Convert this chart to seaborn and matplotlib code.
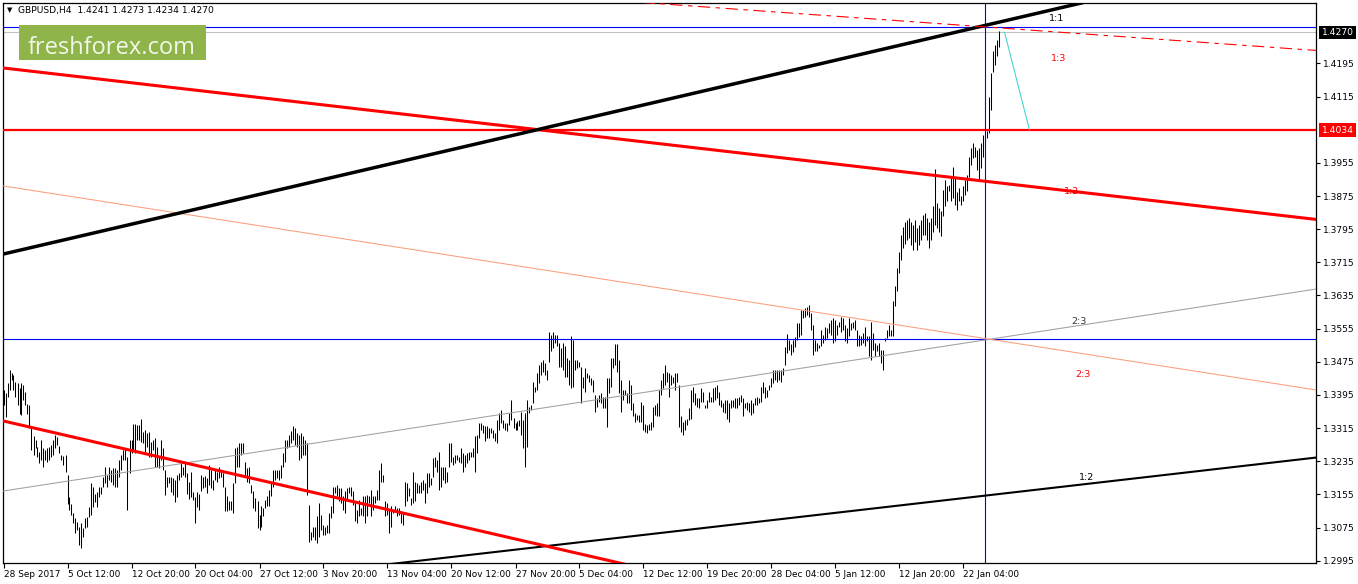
import numpy as np
import matplotlib
matplotlib.use("Agg")
import matplotlib.pyplot as plt
import matplotlib.transforms as mtransforms
from matplotlib.patches import Rectangle
import seaborn as sns

# GBPUSD H4 bars, oldest first (high / low)
bar_high = [
    1.3407, 1.3399, 1.3423, 1.3455, 1.3448, 1.3443, 1.3427, 1.3423, 1.3411, 1.3423,
    1.3419, 1.3403, 1.3374, 1.3370, 1.3318, 1.3296, 1.3286, 1.3270, 1.3258, 1.3286,
    1.3266, 1.3262, 1.3266, 1.3270, 1.3274, 1.3286, 1.3298, 1.3294, 1.3272, 1.3250,
    1.3247, 1.3250, 1.3202, 1.3149, 1.3133, 1.3109, 1.3097, 1.3089, 1.3077, 1.3085,
    1.3073, 1.3097, 1.3101, 1.3125, 1.3182, 1.3174, 1.3157, 1.3161, 1.3174, 1.3174,
    1.3198, 1.3222, 1.3202, 1.3222, 1.3214, 1.3218, 1.3218, 1.3214, 1.3238, 1.3250,
    1.3262, 1.3266, 1.3246, 1.3286, 1.3286, 1.3326, 1.3326, 1.3322, 1.3322, 1.3336,
    1.3306, 1.3310, 1.3302, 1.3306, 1.3282, 1.3286, 1.3290, 1.3270, 1.3246, 1.3286,
    1.3266, 1.3214, 1.3198, 1.3198, 1.3198, 1.3194, 1.3190, 1.3202, 1.3206, 1.3230,
    1.3222, 1.3230, 1.3206, 1.3186, 1.3210, 1.3161, 1.3149, 1.3161, 1.3157,
    # 99 ..
    1.3202, 1.3198, 1.3200, 1.3194, 1.3226, 1.3214, 1.3190, 1.3214, 1.3210, 1.3222,
    1.3214, 1.3206, 1.3172, 1.3150, 1.3138, 1.3138, 1.3182, 1.3266, 1.3270, 1.3278,
    1.3278, 1.3280, 1.3234, 1.3218, 1.3222, 1.3178, 1.3162, 1.3146, 1.3138, 1.3106,
    1.3126, 1.3122, 1.3142, 1.3150, 1.3166, 1.3186, 1.3214, 1.3214, 1.3214, 1.3214,
    1.3226, 1.3254, 1.3286, 1.3286, 1.3298, 1.3307, 1.3320, 1.3315, 1.3303, 1.3298,
    1.3303, 1.3295, 1.3286, 1.3278, 1.3130, 1.3065, 1.3077, 1.3077, 1.3102, 1.3134,
    1.3106, 1.3081, 1.3077, 1.3081, 1.3110, 1.3126, 1.3174, 1.3174, 1.3178, 1.3170,
    1.3170, 1.3150, 1.3162, 1.3170, 1.3174, 1.3174, 1.3162, 1.3134, 1.3118, 1.3142,
    1.3122, 1.3150, 1.3150, 1.3154, 1.3150, 1.3166, 1.3150, 1.3150, 1.3166, 1.3214,
    1.3230, 1.3202, 1.3138, 1.3134, 1.3118, 1.3126, 1.3118, 1.3126, 1.3122, 1.3122,
    # 199 ..
    1.3114, 1.3110, 1.3186, 1.3182, 1.3170, 1.3146, 1.3210, 1.3186, 1.3182, 1.3178,
    1.3186, 1.3190, 1.3182, 1.3206, 1.3206, 1.3194, 1.3242, 1.3246, 1.3238, 1.3258,
    1.3222, 1.3222, 1.3222, 1.3210, 1.3279, 1.3279, 1.3246, 1.3250, 1.3250, 1.3246,
    1.3266, 1.3254, 1.3250, 1.3254, 1.3258, 1.3258, 1.3266, 1.3295, 1.3299, 1.3327,
    1.3327, 1.3323, 1.3319, 1.3319, 1.3315, 1.3315, 1.3311, 1.3303, 1.3335, 1.3351,
    1.3359, 1.3335, 1.3327, 1.3327, 1.3351, 1.3383, 1.3339, 1.3327, 1.3331, 1.3335,
    1.3355, 1.3335, 1.3351, 1.3383, 1.3367, 1.3371, 1.3427, 1.3415, 1.3447, 1.3467,
    1.3475, 1.3479, 1.3471, 1.3455, 1.3548, 1.3540, 1.3548, 1.3540, 1.3540, 1.3520,
    1.3508, 1.3520, 1.3512, 1.3484, 1.3479, 1.3537, 1.3528, 1.3479, 1.3479, 1.3475,
    1.3463, 1.3439, 1.3459, 1.3447, 1.3443, 1.3435, 1.3431, 1.3395, 1.3387, 1.3395,
    # 299 ..
    1.3399, 1.3391, 1.3391, 1.3435, 1.3435, 1.3483, 1.3483, 1.3519, 1.3519, 1.3479,
    1.3431, 1.3407, 1.3407, 1.3399, 1.3431, 1.3419, 1.3375, 1.3351, 1.3347, 1.3347,
    1.3379, 1.3371, 1.3326, 1.3322, 1.3326, 1.3330, 1.3367, 1.3371, 1.3375, 1.3407,
    1.3431, 1.3447, 1.3467, 1.3451, 1.3447, 1.3443, 1.3439, 1.3447, 1.3447, 1.3419,
    1.3343, 1.3330, 1.3334, 1.3338, 1.3363, 1.3407, 1.3415, 1.3399, 1.3387, 1.3387,
    1.3411, 1.3403, 1.3371, 1.3383, 1.3403, 1.3391, 1.3411, 1.3415, 1.3419, 1.3403,
    1.3383, 1.3375, 1.3383, 1.3383, 1.3375, 1.3383, 1.3383, 1.3387, 1.3387, 1.3391,
    1.3395, 1.3387, 1.3375, 1.3379, 1.3375, 1.3383, 1.3375, 1.3387, 1.3391, 1.3387,
    1.3415, 1.3427, 1.3415, 1.3407, 1.3419, 1.3435, 1.3455, 1.3455, 1.3455, 1.3455,
    1.3455, 1.3461, 1.3511, 1.3543, 1.3527, 1.3519, 1.3527, 1.3535, 1.3568, 1.3568,
    # 399 ..
    1.3600, 1.3600, 1.3604, 1.3608, 1.3612, 1.3592, 1.3564, 1.3528, 1.3520, 1.3516,
    1.3552, 1.3540, 1.3560, 1.3556, 1.3568, 1.3576, 1.3580, 1.3576, 1.3564, 1.3572,
    1.3584, 1.3580, 1.3564, 1.3556, 1.3580, 1.3568, 1.3572, 1.3576, 1.3552, 1.3540,
    1.3536, 1.3544, 1.3560, 1.3536, 1.3536, 1.3572, 1.3544, 1.3520, 1.3516, 1.3520,
    1.3504, 1.3504, 1.3532, 1.3552, 1.3564, 1.3552, 1.3621, 1.3657, 1.3701, 1.3741,
    # 449 ..
    1.3780, 1.3800, 1.3812, 1.3817, 1.3822, 1.3812, 1.3805, 1.3817, 1.3798, 1.3805,
    1.3817, 1.3829,
    1.3835, 1.3822, 1.3812, 1.3822, 1.3850, 1.3940, 1.3859, 1.3846, 1.3838, 1.3890,
    1.3914, 1.3898, 1.3902, 1.3924, 1.3946, 1.3922, 1.3884, 1.3894, 1.3874, 1.3898,
    1.3914, 1.3926, 1.3970, 1.3990, 1.4003, 1.3994, 1.3986, 1.3990, 1.4003, 1.4023,
    1.4015, 1.4031, 1.4115, 1.4171, 1.4224, 1.4240, 1.4252, 1.4273,
]
bar_low = [
    1.3371, 1.3341, 1.3391, 1.3407, 1.3431, 1.3407, 1.3391, 1.3371, 1.3350, 1.3346,
    1.3383, 1.3371, 1.3350, 1.3314, 1.3262, 1.3250, 1.3266, 1.3246, 1.3230, 1.3238,
    1.3222, 1.3238, 1.3234, 1.3238, 1.3246, 1.3250, 1.3266, 1.3274, 1.3254, 1.3238,
    1.3226, 1.3210, 1.3133, 1.3117, 1.3105, 1.3085, 1.3061, 1.3069, 1.3033, 1.3025,
    1.3053, 1.3073, 1.3077, 1.3101, 1.3105, 1.3125, 1.3137, 1.3125, 1.3149, 1.3157,
    1.3174, 1.3182, 1.3174, 1.3190, 1.3186, 1.3178, 1.3174, 1.3174, 1.3198, 1.3214,
    1.3238, 1.3238, 1.3117, 1.3206, 1.3254, 1.3262, 1.3254, 1.3286, 1.3286, 1.3282,
    1.3278, 1.3258, 1.3270, 1.3246, 1.3246, 1.3262, 1.3222, 1.3222, 1.3218, 1.3238,
    1.3214, 1.3153, 1.3174, 1.3182, 1.3161, 1.3153, 1.3137, 1.3149, 1.3190, 1.3198,
    1.3202, 1.3198, 1.3157, 1.3145, 1.3149, 1.3141, 1.3085, 1.3125, 1.3117,
    # 99 ..
    1.3162, 1.3170, 1.3174, 1.3158, 1.3178, 1.3170, 1.3166, 1.3190, 1.3186, 1.3194,
    1.3198, 1.3174, 1.3114, 1.3114, 1.3118, 1.3118, 1.3110, 1.3182, 1.3222, 1.3222,
    1.3250, 1.3254, 1.3198, 1.3186, 1.3182, 1.3158, 1.3122, 1.3114, 1.3073, 1.3069,
    1.3077, 1.3102, 1.3122, 1.3126, 1.3126, 1.3150, 1.3174, 1.3190, 1.3194, 1.3190,
    1.3194, 1.3222, 1.3234, 1.3266, 1.3270, 1.3278, 1.3286, 1.3274, 1.3270, 1.3238,
    1.3242, 1.3250, 1.3250, 1.3154, 1.3041, 1.3045, 1.3053, 1.3045, 1.3037, 1.3053,
    1.3069, 1.3057, 1.3057, 1.3061, 1.3061, 1.3098, 1.3110, 1.3158, 1.3150, 1.3138,
    1.3134, 1.3118, 1.3110, 1.3138, 1.3158, 1.3150, 1.3130, 1.3090, 1.3085, 1.3102,
    1.3106, 1.3102, 1.3085, 1.3102, 1.3134, 1.3102, 1.3118, 1.3134, 1.3142, 1.3142,
    1.3186, 1.3186, 1.3102, 1.3106, 1.3061, 1.3077, 1.3110, 1.3114, 1.3102, 1.3106,
    # 199 ..
    1.3086, 1.3082, 1.3126, 1.3138, 1.3150, 1.3130, 1.3134, 1.3138, 1.3158, 1.3158,
    1.3158, 1.3166, 1.3134, 1.3158, 1.3174, 1.3178, 1.3198, 1.3222, 1.3210, 1.3166,
    1.3174, 1.3190, 1.3182, 1.3186, 1.3222, 1.3234, 1.3226, 1.3230, 1.3238, 1.3234,
    1.3230, 1.3210, 1.3222, 1.3230, 1.3238, 1.3246, 1.3246, 1.3210, 1.3254, 1.3291,
    1.3311, 1.3303, 1.3283, 1.3291, 1.3291, 1.3303, 1.3291, 1.3283, 1.3279, 1.3311,
    1.3327, 1.3315, 1.3311, 1.3307, 1.3323, 1.3335, 1.3315, 1.3311, 1.3311, 1.3319,
    1.3299, 1.3266, 1.3222, 1.3270, 1.3351, 1.3359, 1.3375, 1.3403, 1.3407, 1.3423,
    1.3443, 1.3451, 1.3443, 1.3431, 1.3475, 1.3500, 1.3508, 1.3520, 1.3512, 1.3463,
    1.3463, 1.3455, 1.3439, 1.3439, 1.3419, 1.3411, 1.3415, 1.3455, 1.3459, 1.3463,
    1.3375, 1.3411, 1.3403, 1.3435, 1.3427, 1.3419, 1.3403, 1.3355, 1.3367, 1.3379,
    # 299 ..
    1.3375, 1.3363, 1.3363, 1.3318, 1.3399, 1.3415, 1.3459, 1.3467, 1.3451, 1.3399,
    1.3355, 1.3383, 1.3395, 1.3375, 1.3375, 1.3359, 1.3343, 1.3330, 1.3335, 1.3330,
    1.3330, 1.3310, 1.3306, 1.3302, 1.3310, 1.3310, 1.3318, 1.3347, 1.3343, 1.3343,
    1.3395, 1.3411, 1.3419, 1.3427, 1.3391, 1.3419, 1.3423, 1.3407, 1.3427, 1.3318,
    1.3306, 1.3298, 1.3310, 1.3322, 1.3334, 1.3338, 1.3379, 1.3371, 1.3367, 1.3363,
    1.3379, 1.3379, 1.3363, 1.3363, 1.3379, 1.3379, 1.3379, 1.3383, 1.3387, 1.3371,
    1.3367, 1.3355, 1.3351, 1.3338, 1.3330, 1.3363, 1.3367, 1.3363, 1.3363, 1.3371,
    1.3379, 1.3343, 1.3363, 1.3359, 1.3355, 1.3347, 1.3351, 1.3371, 1.3371, 1.3375,
    1.3379, 1.3399, 1.3387, 1.3391, 1.3407, 1.3415, 1.3423, 1.3431, 1.3427, 1.3431,
    1.3427, 1.3443, 1.3467, 1.3495, 1.3503, 1.3491, 1.3499, 1.3511, 1.3527, 1.3535,
    # 399 ..
    1.3540, 1.3580, 1.3584, 1.3588, 1.3584, 1.3552, 1.3492, 1.3500, 1.3500, 1.3508,
    1.3512, 1.3520, 1.3528, 1.3532, 1.3544, 1.3540, 1.3520, 1.3524, 1.3540, 1.3560,
    1.3548, 1.3552, 1.3524, 1.3520, 1.3536, 1.3552, 1.3556, 1.3552, 1.3512, 1.3512,
    1.3516, 1.3520, 1.3512, 1.3524, 1.3488, 1.3480, 1.3504, 1.3488, 1.3500, 1.3488,
    1.3472, 1.3456, 1.3524, 1.3532, 1.3536, 1.3536, 1.3536, 1.3609, 1.3645, 1.3689,
    # 449 ..
    1.3720, 1.3750, 1.3760, 1.3769, 1.3774, 1.3757, 1.3745, 1.3764, 1.3745, 1.3757,
    1.3769, 1.3781,
    1.3781, 1.3769, 1.3750, 1.3769, 1.3788, 1.3805, 1.3798, 1.3788, 1.3779, 1.3826,
    1.3850, 1.3862, 1.3886, 1.3862, 1.3870, 1.3854, 1.3842, 1.3862, 1.3854, 1.3862,
    1.3878, 1.3886, 1.3922, 1.3950, 1.3966, 1.3970, 1.3938, 1.3914, 1.3942, 1.3970,
    1.3994, 1.4015, 1.4027, 1.4083, 1.4175, 1.4191, 1.4212, 1.4234,
]

# time axis labels (bar index -> label)
x_tick_pos = [0, 32, 64, 96, 128, 160, 192, 224, 256, 288, 320, 352, 384, 416, 448, 480]
x_tick_labels = ["28 Sep 2017", "5 Oct 12:00", "12 Oct 20:00", "20 Oct 04:00",
                 "27 Oct 12:00", "3 Nov 20:00", "13 Nov 04:00", "20 Nov 12:00",
                 "27 Nov 20:00", "5 Dec 04:00", "12 Dec 12:00", "19 Dec 20:00",
                 "28 Dec 04:00", "5 Jan 12:00", "12 Jan 20:00", "22 Jan 04:00"]
y_ticks = [1.2995, 1.3075, 1.3155, 1.3235, 1.3315, 1.3395, 1.3475, 1.3555,
           1.3635, 1.3715, 1.3795, 1.3875, 1.3955, 1.4115, 1.4195]

# trend lines as (bar index pair, price pair)
black_upper = ([0, 540], [1.37351, 1.4342])
red_upper = ([0, 656.5], [1.41839, 1.38184])
red_lower = ([0, 312], [1.33321, 1.2985])
black_lower = ([190, 656.5], [1.2985, 1.3244])
grey_fan = ([0, 656.5], [1.31632, 1.36507])
salmon_fan = ([0, 656.5], [1.38992, 1.34069])
red_dashdot = ([319.5, 656.5], [1.4342, 1.42262])
cyan_seg = ([500.5, 513], [1.42708, 1.4034])

# horizontal / vertical levels
level_blue_top = 1.4283
level_bid = 1.4270
level_red = 1.4034
level_blue_mid = 1.3529
vline_bar = 491

ratio_text = ["1:1", "1:3", "1:2", "2:3", "2:3", "1:2"]
ratio_x = [526.5, 527.5, 534, 537.5, 539.5, 541.5]
ratio_y = [1.43027, 1.42057, 1.38847, 1.3571, 1.34455, 1.31946]
ratio_color = ["black", "red", "red", "#333333", "red", "black"]

header = "GBPUSD,H4  1.4241 1.4273 1.4234 1.4270"

sns.set_theme(style="white")
plt.rcParams['font.family'] = ['DejaVu Sans']

W, H = 1358, 584
fig = plt.figure(figsize=(W / 100, H / 100), dpi=100)
ax = fig.add_axes([2.7 / W, 1 - 563.3 / H, (1316 - 2.7) / W, (563.3 - 2.7) / H])
ax.set_facecolor("white")

# bars
x = np.arange(len(bar_high))
ax.vlines(x, bar_low, bar_high, color="black", lw=0.75, zorder=3)

# levels
blue = "#0000ff"
ax.axhline(level_blue_top, color=blue, lw=0.8, zorder=4)
ax.axhline(level_bid, color="#c0c0c0", lw=0.75, zorder=2)
ax.axhline(level_red, color="#ff0000", lw=1.6, zorder=4)
ax.axhline(level_blue_mid, color=blue, lw=0.8, zorder=4)
ax.axvline(vline_bar, color=blue, lw=0.8, zorder=4)

# trend lines
sns.lineplot(x=grey_fan[0], y=grey_fan[1], color="#a0a0a0", lw=0.75, ax=ax, zorder=4)
sns.lineplot(x=salmon_fan[0], y=salmon_fan[1], color="#fa9f7a", lw=0.75, ax=ax, zorder=4)
sns.lineplot(x=black_lower[0], y=black_lower[1], color="black", lw=1.5, ax=ax, zorder=5)
sns.lineplot(x=red_lower[0], y=red_lower[1], color="#ff0000", lw=2.2, ax=ax, zorder=5)
sns.lineplot(x=red_upper[0], y=red_upper[1], color="#ff0000", lw=2.2, ax=ax, zorder=5)
sns.lineplot(x=black_upper[0], y=black_upper[1], color="black", lw=2.5, ax=ax, zorder=5)
sns.lineplot(x=cyan_seg[0], y=cyan_seg[1], color="#40d0d0", lw=0.75, ax=ax, zorder=5)
ax.plot(red_dashdot[0], red_dashdot[1], color="#ff0000", lw=0.8,
        linestyle=(0, (11, 5, 4, 5)), zorder=5)

for t, tx, ty, c in zip(ratio_text, ratio_x, ratio_y, ratio_color):
    ax.text(tx, ty, t, color=c, fontsize=6.8, ha="center", va="center", zorder=6)

# shift by a quarter bar so the 1px bars land on pixel centres
ax.set_xlim(-0.4, 656.25)
ax.set_ylim(1.29887, 1.43415)

# axes look
for s in ax.spines.values():
    s.set_color("black")
    s.set_linewidth(0.9)
ax.yaxis.tick_right()
ax.set_yticks(y_ticks)
ax.set_yticklabels([f"{v:.4f}" for v in y_ticks])
ax.set_xticks(x_tick_pos)
ax.set_xticklabels(x_tick_labels, ha="left")
ax.tick_params(axis="y", direction="out", length=3, width=0.8, pad=2,
               labelsize=6.6, colors="black", right=True, left=False)
ax.tick_params(axis="x", direction="out", length=3.5, width=0.8, pad=1.5,
               labelsize=6.4, colors="black", bottom=True)
ax.set_xlabel("")
ax.set_ylabel("")
ax.grid(False)

# price bubbles on the right scale
btr = mtransforms.blended_transform_factory(ax.transAxes, ax.transData)
ax.text(1 + 5.5 / 1313, level_bid, f"{level_bid:.4f}", transform=btr, color="white",
        fontsize=6.6, ha="left", va="center", clip_on=False,
        bbox=dict(facecolor="black", edgecolor="none", pad=1.6))
ax.text(1 + 5.5 / 1313, level_red, f"{level_red:.4f}", transform=btr, color="white",
        fontsize=6.6, ha="left", va="center", clip_on=False,
        bbox=dict(facecolor="#ff0000", edgecolor="none", pad=1.6))

# header and watermark
fig.text(6.5 / W, 1 - 10.5 / H, "\u25bc", fontsize=5, color="black", va="center", ha="left")
fig.text(18 / W, 1 - 10.5 / H, header, fontsize=6.6, color="black", va="center", ha="left")
fig.add_artist(Rectangle((19 / W, 1 - 60 / H), 187 / W, 35 / H, transform=fig.transFigure,
                         facecolor="#8fb54a", edgecolor="none", zorder=10))
fig.text(112 / W, 1 - 53.5 / H, "freshforex.com", fontsize=17, color="#f3f7ea",
         family=["Open Sans", "DejaVu Sans"], ha="center", va="baseline", zorder=11)

fig.savefig("out.png", dpi=100)
